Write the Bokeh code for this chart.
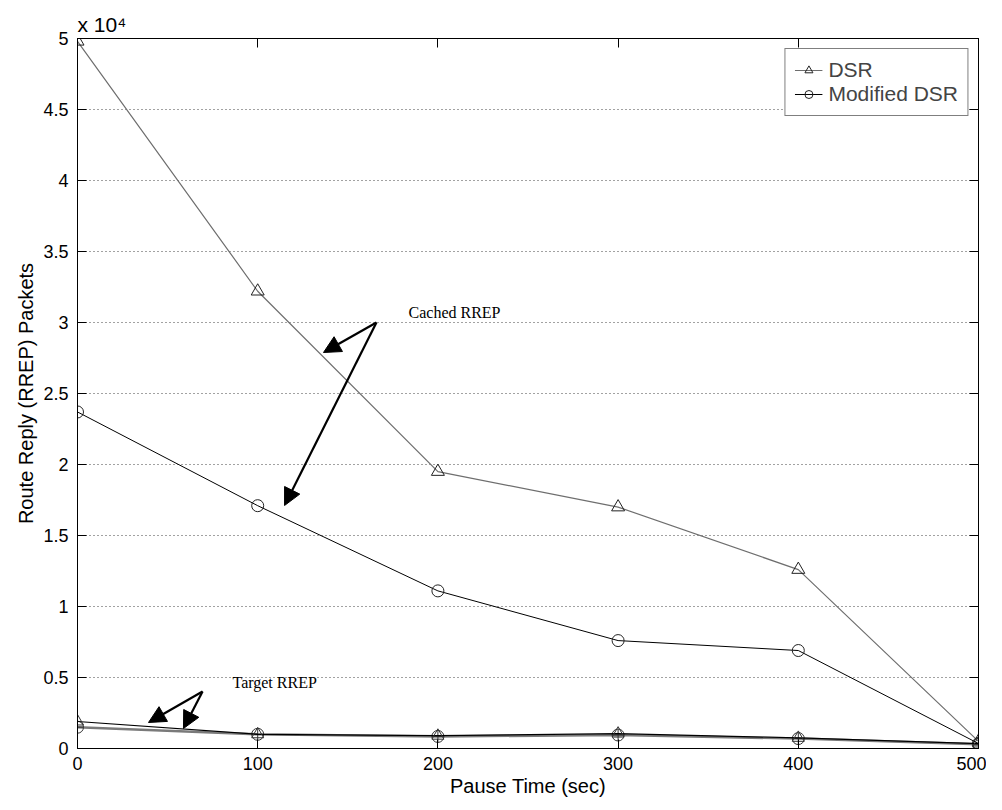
from bokeh.plotting import figure
from bokeh.models import (LinearAxis, FixedTicker, Label, Arrow, NormalHead,
                          Legend, LegendItem, Title)
from bokeh.embed import file_html
from bokeh.resources import INLINE

# ---- data ----
pause_time = [0, 100, 200, 300, 400, 500]
dsr_cached = [49800, 32200, 19500, 17000, 12600, 500]
mod_cached = [23700, 17100, 11100, 7600, 6900, 350]
dsr_target = [1900, 1000, 900, 1050, 750, 350]
mod_target = [1500, 1000, 850, 950, 700, 300]

x_ticks = [0, 100, 200, 300, 400, 500]
y_ticks = [0, 5000, 10000, 15000, 20000, 25000, 30000, 35000, 40000, 45000, 50000]
y_tick_labels = ["0", "0.5", "1", "1.5", "2", "2.5", "3", "3.5", "4", "4.5", "5"]
exponent_text = "x 10\u2074"

x_label = "Pause Time (sec)"
y_label = "Route Reply (RREP) Packets"
legend_labels = ["DSR", "Modified DSR"]

# annotation anchors (data coords)
cached_text = ("Cached RREP", 183.7, 30700)
cached_tail = (165.9, 30000)
cached_heads = [(136.5, 27887), (114.9, 17113)]
target_text = ("Target RREP", 86.0, 4650)
target_tail = (69.4, 4014)
target_heads = [(39.4, 1831), (58.8, 1408)]

SANS = "Liberation Sans"
SERIF = "Liberation Serif"

p = figure(frame_width=901, frame_height=710, x_range=(0, 500), y_range=(0, 50000),
           output_backend="svg", toolbar_location=None,
           min_border_left=77, min_border_top=38, min_border_right=8,
           min_border_bottom=54)
p.outline_line_color = "black"
p.outline_line_width = 1
p.background_fill_color = "white"
p.border_fill_color = "white"

for ax in (p.xaxis[0], p.yaxis[0]):
    ax.major_tick_in = 9
    ax.major_tick_out = 0
    ax.minor_tick_in = 0
    ax.minor_tick_out = 0
    ax.major_label_text_font = SANS
    ax.major_label_text_font_size = "18px"
    ax.major_label_text_color = "black"
    ax.axis_label_text_font = SANS
    ax.axis_label_text_font_size = "20px"
    ax.axis_label_text_font_style = "normal"
    ax.axis_label_text_color = "black"
    ax.axis_line_color = "black"

p.xaxis.ticker = FixedTicker(ticks=x_ticks)
p.yaxis.ticker = FixedTicker(ticks=y_ticks)
p.yaxis.major_label_overrides = {t: l for t, l in zip(y_ticks, y_tick_labels)}
p.xaxis.axis_label = x_label
p.yaxis.axis_label = y_label
p.xaxis.major_label_standoff = 8
p.yaxis.major_label_standoff = 9
p.xaxis.axis_label_standoff = 2
p.yaxis.axis_label_standoff = 3

# box axes (top/right) with inward ticks, no labels
top_ax = LinearAxis(ticker=FixedTicker(ticks=x_ticks), major_tick_in=9, major_tick_out=0,
                    minor_tick_in=0, minor_tick_out=0, major_label_text_alpha=0,
                    major_label_text_font_size="1px", major_label_standoff=0)
right_ax = LinearAxis(ticker=FixedTicker(ticks=y_ticks), major_tick_in=9, major_tick_out=0,
                      minor_tick_in=0, minor_tick_out=0, major_label_text_alpha=0,
                      major_label_text_font_size="1px", major_label_standoff=0)
p.add_layout(top_ax, "above")
p.add_layout(right_ax, "right")

p.xgrid.visible = False
p.ygrid.ticker = FixedTicker(ticks=y_ticks)
p.ygrid.grid_line_color = "#444444"
p.ygrid.grid_line_dash = "1 3"
p.ygrid.grid_line_width = 1

# exponent marker above the y axis
p.add_layout(Title(text=exponent_text, align="left", text_font=SANS,
                   text_font_size="21px", text_font_style="normal",
                   text_color="black", standoff=6, offset=0), "above")

# ---- series ----
l1 = p.line(pause_time, dsr_cached, line_color="#6e6e6e", line_width=1.2)
m1 = p.scatter(pause_time, dsr_cached, marker="triangle", size=13, line_color="#222222",
               fill_alpha=0, line_width=1)
l2 = p.line(pause_time, mod_cached, line_color="black", line_width=1)
m2 = p.scatter(pause_time, mod_cached, marker="circle", size=12, line_color="#222222",
               fill_alpha=0, line_width=1)

p.line(pause_time, mod_target, line_color="#7a7a7a", line_width=2.5)
p.scatter(pause_time, mod_target, marker="circle_cross", size=12, line_color="#333333",
          fill_alpha=0, line_width=1)
p.line(pause_time, dsr_target, line_color="black", line_width=1.2)
p.scatter(pause_time, dsr_target, marker="triangle", size=12, line_color="#333333",
          fill_alpha=0, line_width=1)

legend = Legend(items=[LegendItem(label=legend_labels[0], renderers=[l1, m1]),
                       LegendItem(label=legend_labels[1], renderers=[l2, m2])],
                location="top_right")
legend.border_line_color = "black"
legend.border_line_width = 1
legend.background_fill_alpha = 1
legend.label_text_font = SANS
legend.label_text_font_size = "21px"
legend.glyph_width = 28
legend.glyph_height = 20
legend.label_height = 20
legend.spacing = 0
legend.padding = 9
legend.margin = 10
legend.label_standoff = 6
p.add_layout(legend)

# annotations
for (txt, tx, ty), tail, heads in [(cached_text, cached_tail, cached_heads),
                                   (target_text, target_tail, target_heads)]:
    p.add_layout(Label(x=tx, y=ty, text=txt, text_font=SERIF, text_font_size="16px",
                       text_baseline="middle", text_color="black"))
    for hx, hy in heads:
        p.add_layout(Arrow(x_start=tail[0], y_start=tail[1], x_end=hx, y_end=hy,
                           line_width=2.2, line_color="black",
                           end=NormalHead(size=17, fill_color="black", line_color="black")))

open("out.html", "w").write(file_html(p, INLINE))
